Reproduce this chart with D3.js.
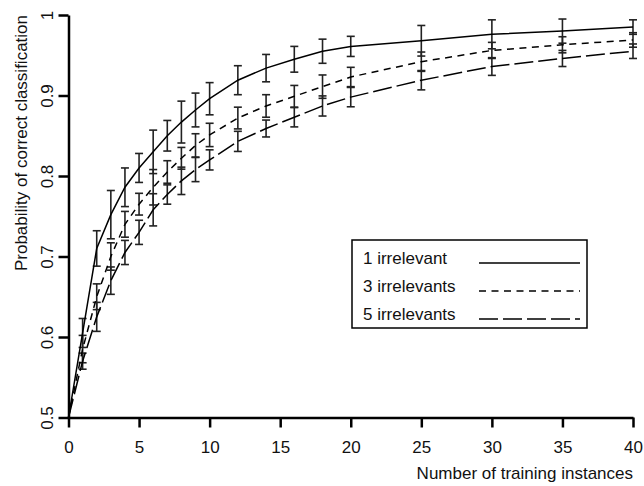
<!DOCTYPE html>
<html>
<head>
<meta charset="utf-8">
<script src="https://cdn.jsdelivr.net/npm/d3@7"></script>
<style>
  html, body { margin: 0; padding: 0; background: #fff; }
  svg { display: block; font-family: "Liberation Sans", Arial, Helvetica, sans-serif; }
</style>
</head>
<body>
<svg id="chart" width="644" height="486"></svg>
<script>
// ---- data ----
const xValues = [0, 1, 2, 3, 4, 5, 6, 7, 8, 9, 10, 12, 14, 16, 18, 20, 25, 30, 35, 40];

const oneIrrelevant    = [0.5, 0.605, 0.71, 0.752, 0.786, 0.810, 0.830, 0.850, 0.867, 0.882, 0.896, 0.919, 0.934, 0.945, 0.955, 0.961, 0.968, 0.976, 0.980, 0.985];
const oneIrrelevantErr = [0, 0.018, 0.022, 0.030, 0.024, 0.018, 0.027, 0.019, 0.026, 0.021, 0.020, 0.018, 0.017, 0.016, 0.015, 0.0125, 0.019, 0.018, 0.015, 0.009];

const threeIrrelevants    = [0.5, 0.585, 0.650, 0.700, 0.740, 0.765, 0.786, 0.805, 0.822, 0.838, 0.851, 0.872, 0.887, 0.899, 0.911, 0.923, 0.942, 0.956, 0.963, 0.969];
const threeIrrelevantsErr = [0, 0.017, 0.016, 0.017, 0.016, 0.0135, 0.022, 0.014, 0.0135, 0.0145, 0.0145, 0.0135, 0.014, 0.0135, 0.0145, 0.012, 0.012, 0.010, 0.010, 0.009];

const fiveIrrelevants    = [0.5, 0.570, 0.625, 0.670, 0.705, 0.730, 0.758, 0.777, 0.794, 0.808, 0.820, 0.843, 0.859, 0.873, 0.887, 0.898, 0.919, 0.936, 0.946, 0.955];
const fiveIrrelevantsErr = [0, 0.010, 0.018, 0.017, 0.015, 0.015, 0.020, 0.012, 0.017, 0.015, 0.0125, 0.0125, 0.0105, 0.012, 0.0125, 0.012, 0.012, 0.011, 0.010, 0.009];

const seriesNames = ["1 irrelevant", "3 irrelevants", "5 irrelevants"];
const xTicks = [0, 5, 10, 15, 20, 25, 30, 35, 40];
const yTicks = [0.5, 0.6, 0.7, 0.8, 0.9, 1];
const yTickLabels = ["0.5", "0.6", "0.7", "0.8", "0.9", "1"];
const xTitle = "Number of training instances";
const yTitle = "Probability of correct classification";

// ---- styles ----
const dashes = [null, "7,5.5", "19,5"];

const svg = d3.select("#chart");
const x = d3.scaleLinear().domain([0, 40]).range([68.5, 633]);
const y = d3.scaleLinear().domain([0.5, 1]).range([417.5, 15]);

const series = [
  { name: seriesNames[0], vals: oneIrrelevant, errs: oneIrrelevantErr, dash: dashes[0] },
  { name: seriesNames[1], vals: threeIrrelevants, errs: threeIrrelevantsErr, dash: dashes[1] },
  { name: seriesNames[2], vals: fiveIrrelevants, errs: fiveIrrelevantsErr, dash: dashes[2] }
];

// error bars
const capHalf = 4;
series.forEach(s => {
  const g = svg.append("g").attr("stroke", "#222").attr("stroke-width", 1.6).attr("fill", "none");
  xValues.forEach((xv, i) => {
    const e = s.errs[i];
    if (!e) return;
    const cx = x(xv), top = y(s.vals[i] + e), bot = y(s.vals[i] - e);
    g.append("line").attr("x1", cx).attr("x2", cx).attr("y1", top).attr("y2", bot);
    g.append("line").attr("x1", cx - capHalf).attr("x2", cx + capHalf).attr("y1", top).attr("y2", top);
    g.append("line").attr("x1", cx - capHalf).attr("x2", cx + capHalf).attr("y1", bot).attr("y2", bot);
  });
});

// lines
const line = d3.line().x((d, i) => x(xValues[i])).y(d => y(d));
series.forEach(s => {
  svg.append("path")
    .datum(s.vals)
    .attr("d", line)
    .attr("fill", "none")
    .attr("stroke", "#000")
    .attr("stroke-width", 1.5)
    .attr("stroke-dasharray", s.dash);
});

// axes
const xAxis = svg.append("g").attr("transform", `translate(0,${y(0.5)})`)
  .call(d3.axisBottom(x).tickValues(xTicks).tickSize(10).tickSizeOuter(0));
const yAxis = svg.append("g").attr("transform", `translate(${x(0)},0)`)
  .call(d3.axisLeft(y).tickValues(yTicks).tickSize(10).tickSizeOuter(0).tickFormat((d, i) => yTickLabels[i]));

[xAxis, yAxis].forEach(a => {
  a.select(".domain").attr("stroke", "#000").attr("stroke-width", 2.5);
  a.selectAll(".tick line").attr("stroke", "#000").attr("stroke-width", 2.5);
  a.selectAll("text").attr("fill", "#111").style("font-size", "17px").style("font-family", "'Liberation Sans', Arial, sans-serif");
});
xAxis.selectAll(".tick text").attr("dy", null).attr("y", 35.5);
yAxis.selectAll(".tick text")
  .attr("x", null).attr("dy", null)
  .attr("text-anchor", "middle")
  .attr("transform", "translate(-15.5,0) rotate(-90)");

// axis titles
svg.append("text")
  .attr("x", 633).attr("y", 479)
  .attr("text-anchor", "end")
  .style("font-size", "17px")
  .attr("fill", "#111")
  .text(xTitle);
svg.append("text")
  .attr("transform", `translate(27,${y(1)}) rotate(-90)`)
  .attr("text-anchor", "end")
  .style("font-size", "17px")
  .attr("fill", "#111")
  .text(yTitle);

// legend
const legend = svg.append("g");
legend.append("rect")
  .attr("x", 352).attr("y", 240).attr("width", 235).attr("height", 88)
  .attr("fill", "#fff").attr("stroke", "#000").attr("stroke-width", 1.5);
series.forEach((s, i) => {
  const by = 264 + i * 28;
  legend.append("text").attr("x", 363).attr("y", by)
    .style("font-size", "17px").attr("fill", "#111").text(s.name);
  legend.append("line")
    .attr("x1", 479).attr("x2", 580).attr("y1", by - 1).attr("y2", by - 1)
    .attr("stroke", "#000").attr("stroke-width", 1.5)
    .attr("stroke-dasharray", s.dash);
});
</script>
</body>
</html>
